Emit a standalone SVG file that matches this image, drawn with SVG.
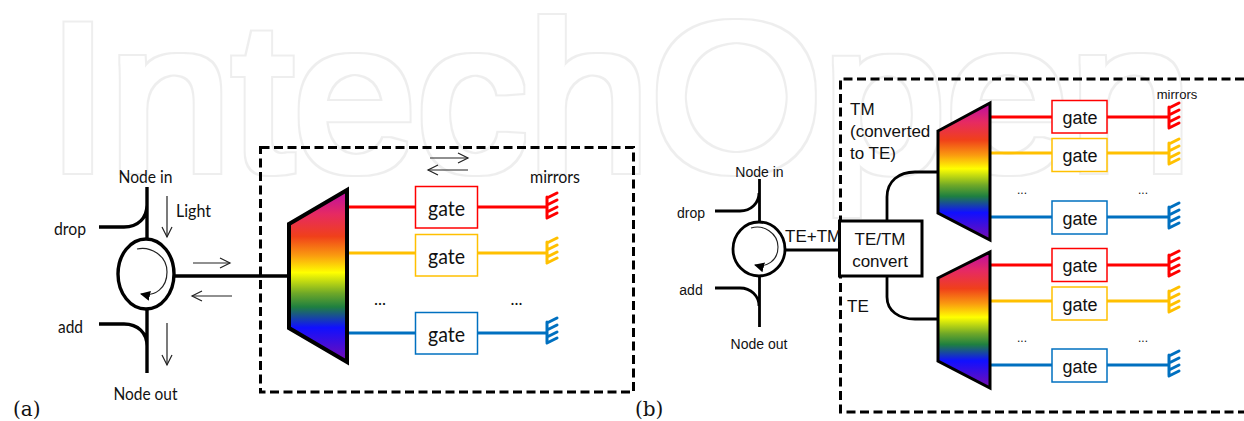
<svg xmlns="http://www.w3.org/2000/svg" width="1244" height="421" viewBox="0 0 1244 421">
<style>
text{fill:#111}
.a{font-family:"Lato","Noto Sans",sans-serif;font-size:17px}
.ga{font-size:22px}
.b{font-family:"Liberation Sans",Arial,sans-serif;font-size:14px}
.b17{font-size:17px}
.gb{font-size:18px}
.dots{font-size:12px}
.m{text-anchor:middle}
.cap{font-family:"DejaVu Serif","Liberation Serif",serif;font-size:20px}
.k{fill:none;stroke:#000;stroke-width:3.4}
.k2{fill:none;stroke:#000;stroke-width:2.8}
.thin{fill:none;stroke:#222;stroke-width:1.2}
.dash{fill:none;stroke:#000;stroke-width:3;stroke-dasharray:9 4.5}
.demux{fill:url(#rainbow);stroke:#000;stroke-linejoin:miter}
.gbox{fill:#fff;stroke-width:1.5}
.r{stroke:#f00}.y{stroke:#ffc000}.bl{stroke:#0070c0}
.wire{fill:none;stroke-width:3}
.mir{fill:none;stroke-width:3;stroke-linecap:round}
.wm{font-family:"Liberation Sans",Arial,sans-serif;font-size:209px;fill:#000}
</style>
<defs>
<linearGradient id="rainbow" x1="0" y1="0" x2="0" y2="1">
<stop offset="0" stop-color="#bb0ca8"/>
<stop offset="0.14" stop-color="#e62a62"/>
<stop offset="0.27" stop-color="#f0401a"/>
<stop offset="0.38" stop-color="#fa9a10"/>
<stop offset="0.48" stop-color="#ffff00"/>
<stop offset="0.6" stop-color="#6fa828"/>
<stop offset="0.68" stop-color="#1f8040"/>
<stop offset="0.8" stop-color="#1010ff"/>
<stop offset="1" stop-color="#7a0cb0"/>
</linearGradient>
<filter id="ring" x="0" y="0" width="1244" height="421" filterUnits="userSpaceOnUse" color-interpolation-filters="sRGB">
<feMorphology in="SourceAlpha" operator="dilate" radius="5" result="outer"/>
<feMorphology in="SourceAlpha" operator="dilate" radius="3.4" result="inner"/>
<feFlood flood-color="#eeeeee"/>
<feComposite in2="outer" operator="in" result="fillo"/>
<feComposite in="fillo" in2="inner" operator="out"/>
</filter>
<marker id="open" markerWidth="14" markerHeight="12" refX="11" refY="6" orient="auto" markerUnits="userSpaceOnUse"><path d="M1 1L11 6L1 11" fill="none" stroke="#222" stroke-width="1.2"/></marker>
<marker id="solid" markerWidth="12" markerHeight="12" refX="9" refY="5" orient="auto" markerUnits="userSpaceOnUse"><path d="M0 0L10 5L0 10z" fill="#000"/></marker>
<g id="mirror"><path d="M0 -10V10M0 -9L10 -14M0 -2L10 -7M0 5L10 0M0 11L10 6"/></g>
</defs>

<g id="watermark"><text class="wm" x="47" y="170" textLength="1145" lengthAdjust="spacingAndGlyphs" filter="url(#ring)">IntechOpen</text></g>

<g id="connectors">
<path class="k" d="M147 187V241M99 227H124C138 227 147 218 147 205"/>
<path class="k" d="M147 309V373M99 324H124C138 324 147 333 147 346"/>
<path class="k" d="M175 276H289"/>
<path class="thin" marker-end="url(#open)" d="M167 196V237"/>
<path class="thin" marker-end="url(#open)" d="M193 263H230"/>
<path class="thin" marker-end="url(#open)" d="M232 296H192"/>
<path class="thin" marker-end="url(#open)" d="M167 323V365"/>
<path class="thin" marker-end="url(#open)" d="M430 158H468"/>
<path class="thin" marker-end="url(#open)" d="M468 170H428"/>
<path class="wire r" d="M347 207H546"/>
<path class="wire y" d="M347 253H546"/>
<path class="wire bl" d="M347 333H546"/>

<path class="k2" d="M759.500 179V222M715 211H740C751 211 759 203 759 193"/>
<path class="k2" d="M759.500 276V327M715 288H740C751 288 759 296 759 306"/>
<path class="k2" d="M785 250H840"/>
<path class="k2" d="M887 221V197C887 181 899 172 915 172H938"/>
<path class="k2" d="M887 276V297C887 311 899 319 915 319H938"/>
<path class="wire r" d="M990 117H1169M990 265H1169"/>
<path class="wire y" d="M990 153H1169M990 301H1169"/>
<path class="wire bl" d="M990 217H1169M990 365H1169"/>
</g>

<g id="panel-a">
<rect class="dash" x="260.500" y="147.500" width="373" height="244.500"/>
<g id="circulator-a">
<ellipse cx="146" cy="274" rx="28" ry="35" fill="#fff" stroke="#000" stroke-width="3.4"/>
<path d="M137 249C150 246 167 255 167 272C167 288 155 297 141 294" fill="none" stroke="#222" stroke-width="1.2" marker-end="url(#solid)"/>
</g>
<g id="demux-a"><path class="demux" stroke-width="4" d="M289 224L347 190V362L289 328Z"/></g>
<g id="gate-a1"><rect class="gbox r" x="415.500" y="186.500" width="62" height="41.500"/><text class="a ga m" x="446.500" y="216" textLength="37" lengthAdjust="spacingAndGlyphs">gate</text></g>
<g id="gate-a2"><rect class="gbox y" x="415.500" y="234.500" width="62" height="41.500"/><text class="a ga m" x="446.500" y="264" textLength="37" lengthAdjust="spacingAndGlyphs">gate</text></g>
<g id="gate-a3"><rect class="gbox bl" x="415.500" y="312.500" width="62" height="41.500"/><text class="a ga m" x="446.500" y="342" textLength="37" lengthAdjust="spacingAndGlyphs">gate</text></g>
<use href="#mirror" class="mir r" x="547" y="207"/>
<use href="#mirror" class="mir y" x="547" y="252"/>
<use href="#mirror" class="mir bl" x="547" y="332"/>
<text class="a m" x="145.500" y="183" textLength="54" lengthAdjust="spacingAndGlyphs">Node in</text>
<text class="a" x="176" y="217" textLength="35" lengthAdjust="spacingAndGlyphs">Light</text>
<text class="a m" x="70" y="235" textLength="32" lengthAdjust="spacingAndGlyphs">drop</text>
<text class="a m" x="70.500" y="333" textLength="25" lengthAdjust="spacingAndGlyphs">add</text>
<text class="a m" x="145.500" y="400" textLength="64" lengthAdjust="spacingAndGlyphs">Node out</text>
<text class="a m" x="555" y="183" textLength="50" lengthAdjust="spacingAndGlyphs">mirrors</text>
<text class="a m" x="380" y="305">...</text>
<text class="a m" x="516.500" y="305">...</text>
<text class="cap" x="13" y="416">(a)</text>
</g>

<g id="panel-b">
<path class="dash" d="M1244 79H840.500V412H1244"/>
<g id="circulator-b">
<ellipse cx="759" cy="249" rx="26" ry="27" fill="#fff" stroke="#000" stroke-width="2.8"/>
<path d="M751 228C763 224 778 233 778 247C778 261 766 268 755 265" fill="none" stroke="#222" stroke-width="1.1" marker-end="url(#solid)"/>
</g>
<g id="convert"><rect x="839.500" y="221" width="82.500" height="55" fill="#fff" stroke="#000" stroke-width="3"/>
<text class="b b17 m" x="880" y="245">TE/TM</text><text class="b b17 m" x="880" y="267">convert</text></g>
<g id="demux-b1"><path class="demux" stroke-width="3" d="M938 131L990 103V240L938 213Z"/></g>
<g id="demux-b2"><path class="demux" stroke-width="3" d="M938 278L990 252V388L938 361Z"/></g>
<g id="gate-b1"><rect class="gbox r" x="1052" y="100.500" width="55" height="32.500"/><text class="b gb m" x="1080" y="124">gate</text></g>
<g id="gate-b2"><rect class="gbox y" x="1052" y="138.500" width="55" height="33"/><text class="b gb m" x="1080" y="162">gate</text></g>
<g id="gate-b3"><rect class="gbox bl" x="1052" y="201" width="55" height="33"/><text class="b gb m" x="1080" y="225">gate</text></g>
<g id="gate-b4"><rect class="gbox r" x="1052" y="248.500" width="55" height="33"/><text class="b gb m" x="1080" y="272">gate</text></g>
<g id="gate-b5"><rect class="gbox y" x="1052" y="287" width="55" height="33"/><text class="b gb m" x="1080" y="311">gate</text></g>
<g id="gate-b6"><rect class="gbox bl" x="1052" y="349" width="55" height="33"/><text class="b gb m" x="1080" y="373">gate</text></g>
<use href="#mirror" class="mir r" x="1169" y="117"/>
<use href="#mirror" class="mir y" x="1169" y="153"/>
<use href="#mirror" class="mir bl" x="1169" y="217"/>
<use href="#mirror" class="mir r" x="1169" y="265"/>
<use href="#mirror" class="mir y" x="1169" y="301"/>
<use href="#mirror" class="mir bl" x="1169" y="365"/>
<text class="b m" x="759.500" y="177">Node in</text>
<text class="b m" x="691" y="218">drop</text>
<text class="b m" x="691" y="295">add</text>
<text class="b m" x="759" y="349">Node out</text>
<text class="b b17" x="785" y="242">TE+TM</text>
<text class="b b17" x="850" y="115">TM</text>
<text class="b b17" x="850" y="137">(converted</text>
<text class="b b17" x="850" y="159">to TE)</text>
<text class="b b17" x="847" y="312">TE</text>
<text class="b m" x="1177" y="99" style="font-size:13px">mirrors</text>
<text class="b dots m" x="1022" y="194">...</text>
<text class="b dots m" x="1143" y="194">...</text>
<text class="b dots m" x="1022" y="342">...</text>
<text class="b dots m" x="1143" y="342">...</text>
<text class="cap" x="635" y="416">(b)</text>
</g>
</svg>
